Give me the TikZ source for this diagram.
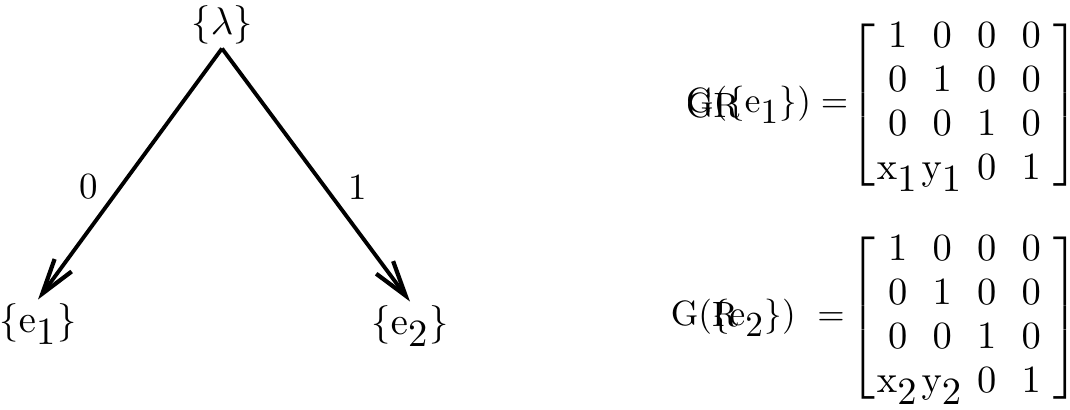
\documentclass[tikz,border=0pt]{standalone}
\usepackage{amsmath}
\usetikzlibrary{arrows.meta, positioning}

\newcommand{\slimentry}[1]{\makebox[0.5em]{$#1$}}
\newcommand{\lowidx}[1]{_{\textstyle #1}}

\begin{document}
\begin{tikzpicture}[x=0.01cm, y=-0.01cm,
  set_node/.style={inner sep=1pt, font=\fontsize{10.5}{12}\selectfont},
  edge_label/.style={font=\fontsize{10.5}{12}\selectfont, inner sep=1pt},
  arrow/.style={-{Straight Barb[length=10pt, width=6pt, line width=1.2pt]}, line width=1.1pt},
  matrix_style/.style={inner sep=0pt, font=\fontsize{10.5}{12}\selectfont},
  eq_label/.style={inner sep=0pt, font=\fontsize{10}{12}\selectfont}
]
  \useasboundingbox (0,0) rectangle (1070,410);

  % tree
  \node[set_node] (root) at (222,25) {$\{\lambda\}$};
  \node[set_node] (leftleaf) at (38,324) {$\{\mathrm{e}\lowidx{1}\}$};
  \node[set_node] (rightleaf) at (410,326) {$\{\mathrm{e}\lowidx{2}\}$};

  \draw[arrow] (root.south) -- node[edge_label, pos=0.55, left=5pt]{0} (leftleaf.north);
  \draw[arrow] (root.south) -- node[edge_label, pos=0.55, right=5pt]{1} (rightleaf.north);

  % matrices
  \setlength{\arraycolsep}{3.6pt}
  \renewcommand{\arraystretch}{1.04}
  \node[matrix_style, anchor=east] (topmat) at (1080,105)
    {$\left[\begin{array}{cccc} 1 & 0 & 0 & 0\\ 0 & 1 & 0 & 0\\ 0 & 0 & 1 & 0\\
      \slimentry{\mathrm{x}\lowidx{1}} & \slimentry{\mathrm{y}\lowidx{1}} & 0 & 1 \end{array}\right]$};
  \node[matrix_style, anchor=east] (botmat) at (1080,318)
    {$\left[\begin{array}{cccc} 1 & 0 & 0 & 0\\ 0 & 1 & 0 & 0\\ 0 & 0 & 1 & 0\\
      \slimentry{\mathrm{x}\lowidx{2}} & \slimentry{\mathrm{y}\lowidx{2}} & 0 & 1 \end{array}\right]$};

  \node[eq_label, left=0pt of topmat] (topeq) {$\mathrm{G}(\{\mathrm{e}\lowidx{1}\})=$};
  \node[eq_label, anchor=west] (topover) at (topeq.west) {$\mathrm{G}\mathrm{R}$};
  \node[eq_label, left=1pt of botmat] (boteq) {$\mathrm{G}(\{\mathrm{e}\lowidx{2}\})\ =$};
  \node[eq_label, anchor=west] (botover) at (boteq.west) {$\phantom{\mathrm{G}(}\mathrm{R}$};
\end{tikzpicture}
\end{document}
